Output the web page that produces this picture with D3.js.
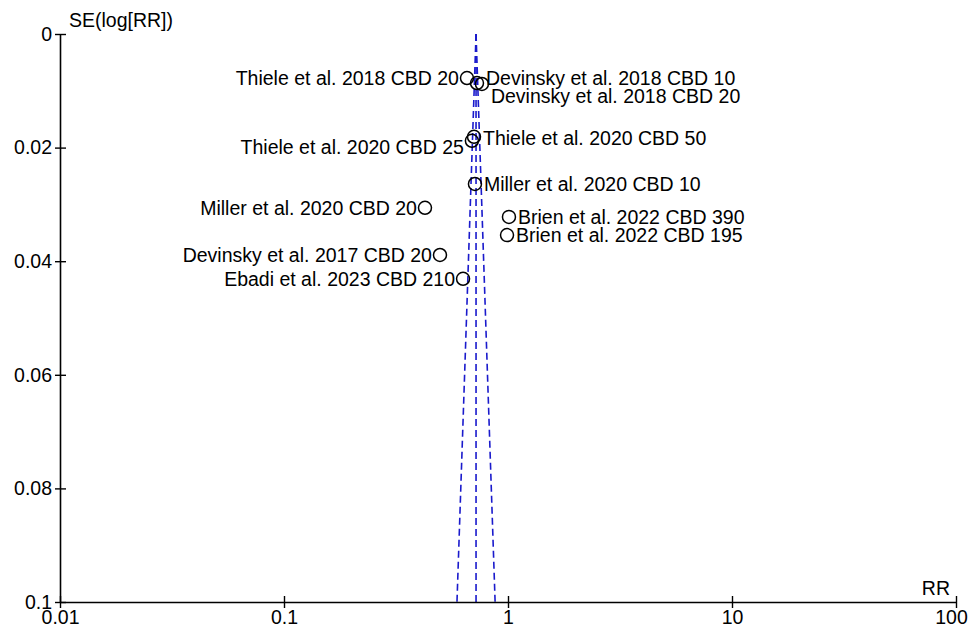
<!DOCTYPE html>
<html><head><meta charset="utf-8">
<script src="https://cdn.jsdelivr.net/npm/d3@7/dist/d3.min.js"></script>
<style>body{margin:0;background:#fff;} svg{display:block;font-family:"Liberation Sans",Arial,sans-serif;}</style>
</head><body><div id="chart"></div>
<script>
const studies = ["Thiele et al. 2018 CBD 20","Devinsky et al. 2018 CBD 10","Devinsky et al. 2018 CBD 20","Thiele et al. 2020 CBD 50","Thiele et al. 2020 CBD 25","Miller et al. 2020 CBD 10","Miller et al. 2020 CBD 20","Brien et al. 2022 CBD 390","Brien et al. 2022 CBD 195","Devinsky et al. 2017 CBD 20","Ebadi et al. 2023 CBD 210"];
const rr = [0.656,0.727,0.765,0.705,0.69,0.712,0.426,1.01,0.99,0.497,0.63];
const se = [0.00775,0.00863,0.0088,0.0181,0.0188,0.0264,0.0306,0.0322,0.0354,0.0389,0.0431];
const pooledRR = 0.72;
const xTicks = [0.01,0.1,1,10,100];
const yTicks = [0,0.02,0.04,0.06,0.08,0.1];
// label layout (side and vertical nudge in px)
const labelSide = ["end","start","start","start","end","start","end","start","start","end","end"];
const labelNudge = [0,-5,12,1,6,0,0,0,0,0,0];

const W=969,H=629, L=60,R=956,T=34,B=602;
const svg=d3.select("#chart").append("svg").attr("width",W).attr("height",H);
const x=d3.scaleLog().domain([0.01,100]).range([L,R]);
const y=d3.scaleLinear().domain([0,0.1]).range([T,B]);
const fs=19.5;

// funnel
const z=1.96, seMax=0.1;
const lines=[
  [[pooledRR,0],[pooledRR*Math.exp(-z*seMax),seMax]],
  [[pooledRR,0],[pooledRR,seMax]],
  [[pooledRR,0],[pooledRR*Math.exp(z*seMax),seMax]]
];
const line=d3.line().x(d=>x(d[0])).y(d=>y(d[1]));
svg.selectAll(".fun").data(lines).enter().append("path").attr("d",line)
  .attr("fill","none").attr("stroke","#1a1acc").attr("stroke-width",1.6).attr("stroke-dasharray","7,4");

// axes
const xAxis=d3.axisBottom(x).tickValues(xTicks).tickFormat(d=>String(d)).tickSizeInner(6).tickSizeOuter(0);
const gx=svg.append("g").attr("transform",`translate(0,${B})`).call(xAxis);
gx.select(".domain").attr("stroke","#000").attr("stroke-width",1.6);
gx.selectAll(".tick line").attr("stroke","#000").attr("stroke-width",1.4).attr("y1",-6).attr("y2",6);
gx.selectAll(".tick text").attr("font-size",fs).attr("font-family","Liberation Sans, Arial, sans-serif").attr("fill","#000").attr("y",8)
  .attr("dx",d=>d===100?-5:0);

const yAxis=d3.axisLeft(y).tickValues(yTicks).tickFormat(d=>String(d)).tickSizeInner(5).tickSizeOuter(0);
const gy=svg.append("g").attr("transform",`translate(${L},0)`).call(yAxis);
gy.select(".domain").attr("stroke","#000").attr("stroke-width",1.6);
gy.selectAll(".tick line").attr("stroke","#000").attr("stroke-width",1.4).attr("x1",-5).attr("x2",6);
gy.selectAll(".tick text").attr("font-size",fs).attr("font-family","Liberation Sans, Arial, sans-serif").attr("fill","#000").attr("x",-8);

svg.append("text").attr("x",L+9).attr("y",T-7).attr("font-size",fs).text("SE(log[RR])");
svg.append("text").attr("x",R-6).attr("y",B-7).attr("text-anchor","end").attr("font-size",fs).text("RR");

// points
const pts=studies.map((s,i)=>({s,rr:rr[i],se:se[i],side:labelSide[i],dy:labelNudge[i]}));
svg.selectAll(".pt").data(pts).enter().append("circle")
  .attr("cx",d=>x(d.rr)).attr("cy",d=>y(d.se)).attr("r",6.5)
  .attr("fill","none").attr("stroke","#000").attr("stroke-width",1.5);
svg.selectAll(".lab").data(pts).enter().append("text")
  .attr("x",d=>x(d.rr)+(d.side==="start"?9:-8))
  .attr("y",d=>y(d.se)+d.dy).attr("dy","0.36em")
  .attr("text-anchor",d=>d.side).attr("font-size",fs).text(d=>d.s);
</script></body></html>
